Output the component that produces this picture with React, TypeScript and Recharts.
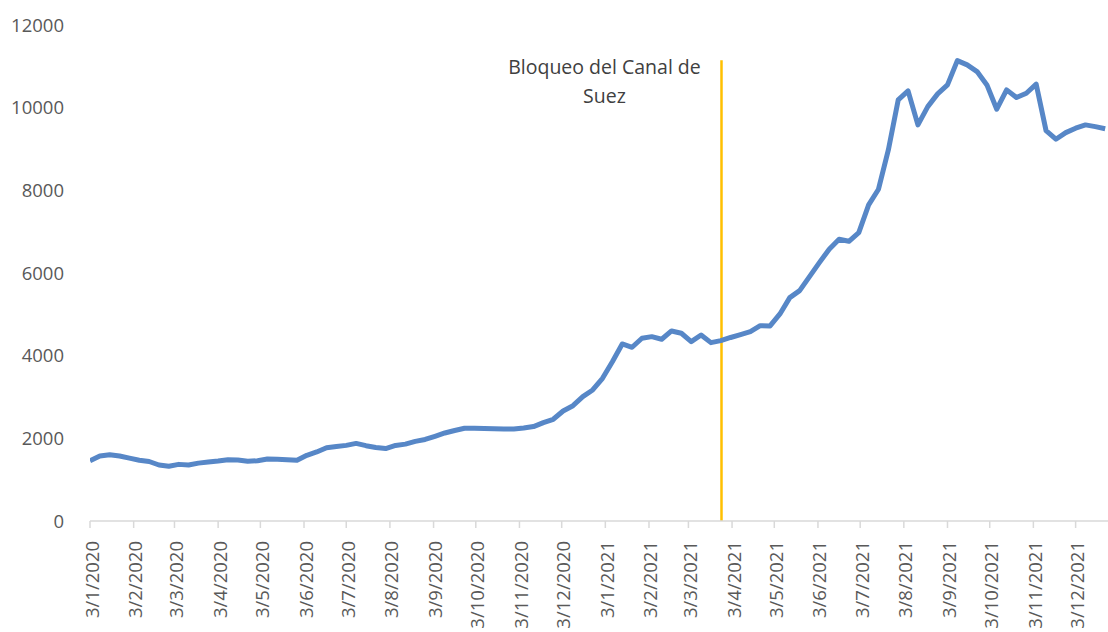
import React from 'react';
import {
  LineChart,
  Line,
  XAxis,
  YAxis,
  ReferenceLine,
} from 'recharts';

// weekly freight index, first value on 3/1/2020
const startLabel = '3/1/2020';
const weeklyPrices = [
  1460, 1575, 1603, 1572, 1520, 1470, 1440, 1355, 1325, 1370,
  1355, 1400, 1425, 1450, 1483, 1475, 1445, 1458, 1498, 1495,
  1483, 1470, 1590, 1670, 1774, 1800, 1830, 1878, 1822, 1780,
  1752, 1828, 1860, 1926, 1972, 2050, 2130, 2190, 2243, 2243,
  2237, 2230, 2226, 2226, 2250, 2285, 2380, 2461, 2662, 2790,
  3008, 3170, 3453, 3855, 4283, 4203, 4421, 4460, 4397, 4598,
  4542, 4339, 4501, 4315, 4363, 4440, 4508, 4581, 4726, 4719,
  5009, 5404, 5573, 5912, 6251, 6575, 6817, 6768, 6977, 7647,
  8027, 8978, 10188, 10406, 9583, 10026, 10333, 10551, 11139, 11035,
  10873, 10551, 9962, 10430, 10244, 10349, 10568, 9445, 9237, 9397,
  9503, 9583, 9542, 9490,
];

const monthLabels = [
  '3/1/2020', '3/2/2020', '3/3/2020', '3/4/2020', '3/5/2020', '3/6/2020',
  '3/7/2020', '3/8/2020', '3/9/2020', '3/10/2020', '3/11/2020', '3/12/2020',
  '3/1/2021', '3/2/2021', '3/3/2021', '3/4/2021', '3/5/2021', '3/6/2021',
  '3/7/2021', '3/8/2021', '3/9/2021', '3/10/2021', '3/11/2021', '3/12/2021',
];

const yTicks = [0, 2000, 4000, 6000, 8000, 10000, 12000];

const blockageLabel = ['Bloqueo del Canal de', 'Suez'];
const blockageDate = '26/3/2021';
const blockageTop = 11150;

const DAY = 86400000;
const toTime = (s: string) => {
  const [d, m, y] = s.split('/').map(Number);
  return Date.UTC(y, m - 1, d);
};
const start = toTime(startLabel);
const toDay = (s: string) => Math.round((toTime(s) - start) / DAY);

const data = weeklyPrices.map((v, i) => ({ day: i * 7, price: v }));
const tickDays = monthLabels.map(toDay);
const labelByDay: Record<number, string> = {};
monthLabels.forEach((l, i) => (labelByDay[tickDays[i]] = l));
const blockageDay = toDay(blockageDate) + 0.5;

const FONT = '"Open Sans", sans-serif';

function DateTick({ x, y, payload }: any) {
  return (
    <text
      transform={`translate(${x + 1},${y + 11}) rotate(-90)`}
      textAnchor="end"
      dominantBaseline="central"
      fill="#595959"
      fontSize={18.5}
      fontFamily={FONT}
    >
      {labelByDay[payload.value]}
    </text>
  );
}

function BlockageLabel({ viewBox }: any) {
  const cx = viewBox.x - 117;
  return (
    <g>
      <text x={cx} y={viewBox.y + 14} textAnchor="middle" fill="#404040" fontSize={19.5} fontFamily={FONT}>
        {blockageLabel[0]}
      </text>
      <text x={cx} y={viewBox.y + 43} textAnchor="middle" fill="#404040" fontSize={19.5} fontFamily={FONT}>
        {blockageLabel[1]}
      </text>
    </g>
  );
}

export default function App() {
  return (
    <div style={{ position: 'absolute', left: 0, top: 0, background: '#fff' }}>
      <LineChart
        width={1108}
        height={632}
        data={data}
        margin={{ top: 25, right: 0, bottom: 0, left: 0 }}
      >
        <XAxis
          dataKey="day"
          type="number"
          domain={[0, 723]}
          ticks={tickDays}
          interval={0}
          allowDataOverflow
          height={111}
          stroke="#D9D9D9"
          strokeWidth={1.5}
          tickSize={7}
          tick={<DateTick />}
        />
        <YAxis
          domain={[0, 12000]}
          ticks={yTicks}
          interval={0}
          width={90}
          axisLine={false}
          tickLine={false}
          tickSize={0}
          tickMargin={26}
          tick={{ fill: '#595959', fontSize: 18.5, fontFamily: FONT }}
        />
        <ReferenceLine
          segment={[
            { x: blockageDay, y: 0 },
            { x: blockageDay, y: blockageTop },
          ]}
          stroke="#FFC000"
          strokeWidth={2.5}
          label={<BlockageLabel />}
        />
        <Line
          type="linear"
          dataKey="price"
          stroke="#5787C7"
          strokeWidth={5}
          dot={false}
          activeDot={false}
          strokeLinejoin="round"
          isAnimationActive={false}
        />
      </LineChart>
    </div>
  );
}
